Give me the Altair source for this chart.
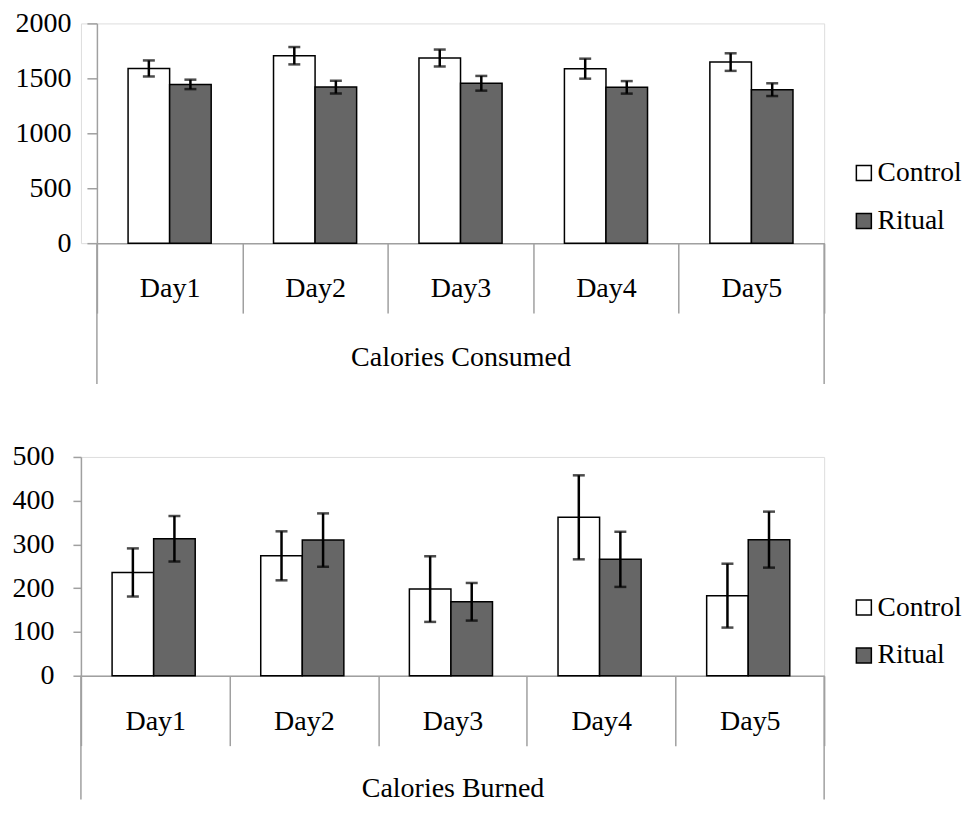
import altair as alt
import pandas as pd

days = ["Day1", "Day2", "Day3", "Day4", "Day5"]
groups = ["Control", "Ritual"]

# Calories Consumed
consumed_control = [1590, 1706, 1685, 1588, 1648]
consumed_control_err = [73, 79, 77, 91, 80]
consumed_ritual = [1445, 1421, 1455, 1418, 1397]
consumed_ritual_err = [43, 58, 67, 57, 58]

# Calories Burned
burned_control = [236, 274, 198, 362, 183]
burned_control_err = [55, 56, 75, 96, 73]
burned_ritual = [313, 310, 169, 266, 311]
burned_ritual_err = [52, 61, 43, 63, 64]

consumed_ticks = [0, 500, 1000, 1500, 2000]
burned_ticks = [0, 100, 200, 300, 400, 500]

FONT = "Liberation Serif"
GRAY = "#a0a0a0"
FS = 28
W = 744


def build_df(ctrl, ctrl_err, rit, rit_err):
    rows = []
    for i, d in enumerate(days):
        rows.append({"Day": d, "Group": "Control", "Value": ctrl[i], "Err": ctrl_err[i]})
        rows.append({"Day": d, "Group": "Ritual", "Value": rit[i], "Err": rit_err[i]})
    return pd.DataFrame(rows)


def panel(df, title, ticks, height, x0, ytick, ypad, lpad, tpad, legend_x, legend_y, line_len):
    ymax = ticks[-1]
    base = alt.Chart(df).transform_calculate(
        lo="datum.Value - datum.Err", hi="datum.Value + datum.Err"
    ).encode(
        x=alt.X(
            "Day:N",
            sort=days,
            scale=alt.Scale(paddingInner=0, paddingOuter=0, range=[x0, W]),
            axis=alt.Axis(
                title=title,
                titleFont=FONT,
                titleFontSize=FS,
                titleFontWeight="normal",
                titleColor="black",
                titlePadding=tpad,
                labelFont=FONT,
                labelFontSize=FS,
                labelColor="black",
                labelAngle=0,
                labelPadding=lpad,
                tickBand="extent",
                tickSize=70,
                tickColor=GRAY,
                tickWidth=1.5,
                domainColor=GRAY,
                domainWidth=1.5,
            ),
        ),
        xOffset=alt.XOffset(
            "Group:N", sort=groups, scale=alt.Scale(paddingOuter=0.75, paddingInner=0)
        ),
    )
    bars = base.mark_bar(stroke="black", strokeWidth=1.5).encode(
        y=alt.Y(
            "Value:Q",
            title=None,
            scale=alt.Scale(domain=[0, ymax], nice=False),
            axis=alt.Axis(
                values=ticks,
                format="d",
                grid=False,
                offset=-x0,
                tickSize=ytick,
                tickColor=GRAY,
                tickWidth=1.5,
                domainColor=GRAY,
                domainWidth=1.5,
                labelFont=FONT,
                labelFontSize=FS,
                labelColor="black",
                labelPadding=ypad,
            ),
        ),
        color=alt.Color(
            "Group:N",
            sort=groups,
            scale=alt.Scale(domain=groups, range=["#ffffff", "#666666"]),
            legend=alt.Legend(
                orient="none",
                legendX=legend_x,
                legendY=legend_y,
                title=None,
                symbolType="square",
                symbolSize=225,
                symbolStrokeColor="black",
                symbolStrokeWidth=1.5,
                labelFont=FONT,
                labelFontSize=27.5,
                labelColor="black",
                labelOffset=0,
                rowPadding=19,
                padding=0,
            ),
        ),
    )
    rules = base.mark_rule(color="black", strokeWidth=2.5).encode(
        y=alt.Y("lo:Q", title=None), y2="hi:Q"
    )
    cap_lo = base.mark_tick(color="black", thickness=2.5, size=12).encode(
        y=alt.Y("lo:Q", title=None)
    )
    cap_hi = base.mark_tick(color="black", thickness=2.5, size=12).encode(
        y=alt.Y("hi:Q", title=None)
    )
    frame = pd.DataFrame({"k": [0]})
    left_line = alt.Chart(frame).mark_rule(color=GRAY, strokeWidth=1.5).encode(
        x=alt.value(x0), y=alt.value(height), y2=alt.value(height + line_len)
    )
    right_line = alt.Chart(frame).mark_rule(color=GRAY, strokeWidth=1.5).encode(
        x=alt.value(W), y=alt.value(height), y2=alt.value(height + line_len)
    )
    return alt.layer(bars, rules, cap_lo, cap_hi, left_line, right_line).properties(
        width=W, height=height
    )


top = panel(
    build_df(consumed_control, consumed_control_err, consumed_ritual, consumed_ritual_err),
    "Calories Consumed", consumed_ticks, 220, 16, 10, 16, -39, 30, 770, 136, 141,
)
bottom = panel(
    build_df(burned_control, burned_control_err, burned_ritual, burned_ritual_err),
    "Calories Burned", burned_ticks, 219, 0, 8, 19, -38, 28, 770, 137, 124,
)

chart = alt.vconcat(top, bottom, spacing=56).resolve_scale(
    x="independent", y="independent", color="independent"
).resolve_legend(color="independent").configure_view(stroke=None).configure(
    background="white"
).properties(padding={"left": 3, "top": 0, "right": 0, "bottom": 0})

chart.save("out.html", embed_options={"renderer": "svg", "actions": False})
